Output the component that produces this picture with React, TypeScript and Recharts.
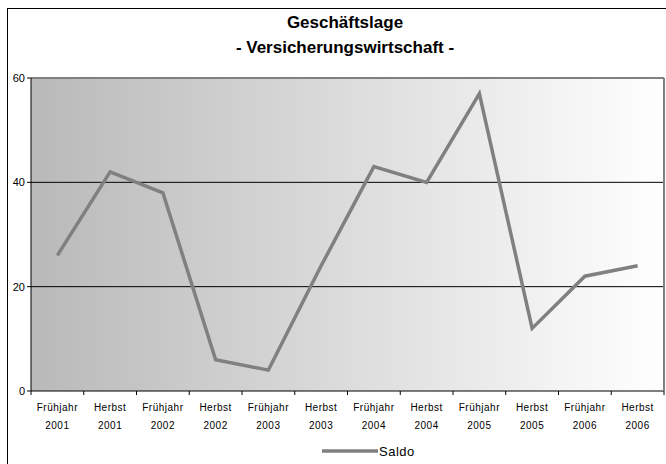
import React from 'react';
import {
  LineChart,
  Line,
  XAxis,
  YAxis,
  CartesianGrid,
  ReferenceLine,
  Legend,
} from 'recharts';

const seasons = [
  'Frühjahr', 'Herbst', 'Frühjahr', 'Herbst', 'Frühjahr', 'Herbst',
  'Frühjahr', 'Herbst', 'Frühjahr', 'Herbst', 'Frühjahr', 'Herbst',
];
const years = [
  '2001', '2001', '2002', '2002', '2003', '2003',
  '2004', '2004', '2005', '2005', '2006', '2006',
];
const saldo = [26, 42, 38, 6, 4, 24, 43, 40, 57, 12, 22, 24];
const yTicks = [0, 20, 40, 60];

const data = saldo.map((value, i) => ({
  label: `${seasons[i]} ${years[i]}`,
  Saldo: value,
}));

const FONT = '"Liberation Sans", Arial, sans-serif';

// two-line category label plus Excel-style tick marks between categories
const CategoryTick = (props: any) => {
  const { x, y, index, payload } = props;
  const half = payload && payload.offset ? payload.offset : 0;
  const last = index === saldo.length - 1;
  return (
    <g>
      <line x1={x - half} y1={y} x2={x - half} y2={y + 4} stroke="#000" />
      {last && <line x1={x + half} y1={y} x2={x + half} y2={y + 4} stroke="#000" />}
      <text x={x} y={y} textAnchor="middle" fontFamily={FONT} fontSize={10} fill="#000" letterSpacing={0.5}>
        <tspan x={x} dy={20}>{seasons[index]}</tspan>
        <tspan x={x} dy={18}>{years[index]}</tspan>
      </text>
    </g>
  );
};

const LegendContent = (props: any) => {
  const item = props.payload && props.payload[0];
  return (
    <div style={{ display: 'flex', alignItems: 'center', height: 20, fontFamily: FONT, fontSize: 13 }}>
      <svg width={57} height={8}>
        <line x1={0} y1={4} x2={56} y2={4} stroke="#808080" strokeWidth={3.5} />
      </svg>
      <span style={{ color: '#000', letterSpacing: 0.5 }}>{item ? item.value : 'Saldo'}</span>
    </div>
  );
};

const App: React.FC = () => {
  return (
    <div style={{ position: 'absolute', left: 0, top: 0, width: 666, height: 464, background: '#fff', overflow: 'hidden' }}>
      {/* outer chart frame, runs off the right and bottom edges */}
      <div style={{ position: 'absolute', left: 7, top: 8, width: 700, height: 500, border: '1px solid #000', boxSizing: 'border-box' }} />
      <div
        style={{
          position: 'absolute',
          left: 0,
          top: 10,
          width: 690,
          textAlign: 'center',
          fontFamily: FONT,
          fontWeight: 'bold',
          fontSize: 17,
          lineHeight: '25px',
          color: '#000',
        }}
      >
        <div>Geschäftslage</div>
        <div>- Versicherungswirtschaft -</div>
      </div>
      <div style={{ position: 'absolute', left: 0, top: 0 }}>
        <LineChart width={666} height={464} data={data} margin={{ top: 78, right: 1, left: 0, bottom: 3 }}>
          <defs>
            <linearGradient id="plotBg" x1="0" y1="0" x2="1" y2="0">
              <stop offset="0%" stopColor="#b9b9b9" />
              <stop offset="100%" stopColor="#ffffff" />
            </linearGradient>
          </defs>
          <CartesianGrid
            fill="url(#plotBg)"
            vertical={false}
            stroke="#000"
            horizontalValues={[20, 40]}
          />
          <XAxis
            dataKey="label"
            scale="band"
            tick={<CategoryTick />}
            tickLine={false}
            tickSize={0}
            tickMargin={0}
            axisLine={{ stroke: '#000' }}
            interval={0}
            height={50}
          />
          <YAxis
            domain={[0, 60]}
            ticks={yTicks}
            width={31}
            tickSize={4}
            tickLine={{ stroke: '#000' }}
            axisLine={{ stroke: '#000' }}
            tick={{ fontFamily: FONT, fontSize: 11, fill: '#000' }}
          />
          <YAxis
            yAxisId="r"
            orientation="right"
            domain={[0, 60]}
            width={1}
            tick={false}
            tickLine={false}
            axisLine={{ stroke: '#808080', strokeWidth: 2 }}
          />
          <ReferenceLine y={60} stroke="#808080" strokeWidth={2} />
          <Legend
            verticalAlign="bottom"
            content={<LegendContent />}
            wrapperStyle={{ left: 322, width: 'auto' }}
          />
          <Line
            type="linear"
            dataKey="Saldo"
            stroke="#808080"
            strokeWidth={3.5}
            dot={false}
            activeDot={false}
            isAnimationActive={false}
          />
        </LineChart>
      </div>
    </div>
  );
};

export default App;
